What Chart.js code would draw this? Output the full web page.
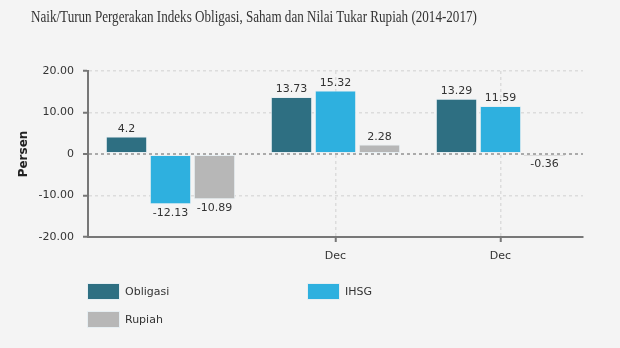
<!DOCTYPE html>
<html>
<head>
<meta charset="utf-8">
<script src="https://cdn.jsdelivr.net/npm/chart.js@4.4.1/dist/chart.umd.min.js"></script>
<style>
  html, body { margin: 0; padding: 0; background: #f4f4f4; }
  #wrap { position: relative; width: 620px; height: 348px; overflow: hidden; }
  #title {
    position: absolute; left: 31px; top: 8px;
    font-family: "Liberation Serif", "DejaVu Serif", serif;
    font-size: 16px; color: #333; white-space: nowrap;
    transform-origin: left top;
  }
  #chart { position: absolute; left: 0; top: 0; }
  .legend-item {
    position: absolute; display: flex; align-items: center;
    font-family: "DejaVu Sans", Verdana, sans-serif; font-size: 11px; color: #333;
  }
  .legend-item span.box {
    display: inline-block; width: 31px; height: 15px; margin-right: 5px;
    border: 1px solid #e6eef2;
  }
</style>
</head>
<body>
<div id="wrap">
  <canvas id="chart" width="620" height="348"></canvas>
  <div id="title">Naik/Turun Pergerakan Indeks Obligasi, Saham dan Nilai Tukar Rupiah (2014-2017)</div>
  <div id="legend"></div>
</div>
<script>
// Categories and series
const categories = ['', 'Dec', 'Dec'];
const obligasi = [4.2, 13.73, 13.29];
const ihsg = [-12.13, 15.32, 11.59];
const rupiah = [-10.89, 2.28, -0.36];
const yTicks = [20, 10, 0, -10, -20];

const seriesList = [
    { label: 'Obligasi', data: obligasi, color: '#2e6f82' },
    { label: 'IHSG', data: ihsg, color: '#2eb0df' },
    { label: 'Rupiah', data: rupiah, color: '#b7b7b7' }
];

// Squeeze the title into a condensed look
const titleEl = document.getElementById('title');
titleEl.style.transform = 'scaleX(' + (446 / titleEl.offsetWidth) + ')';

// HTML legend in two columns
const legendPos = [[87, 283], [307, 283], [87, 311]];
const legendEl = document.getElementById('legend');
seriesList.forEach((s, i) => {
    const item = document.createElement('div');
    item.className = 'legend-item';
    item.style.left = legendPos[i][0] + 'px';
    item.style.top = legendPos[i][1] + 'px';
    item.innerHTML = '<span class="box" style="background:' + s.color + '"></span>' + s.label;
    legendEl.appendChild(item);
});

// Value labels above / below each bar
const valueLabels = {
    id: 'valueLabels',
    afterDatasetsDraw(chart) {
        const ctx = chart.ctx;
        ctx.save();
        ctx.font = '11px "DejaVu Sans", Verdana, sans-serif';
        ctx.fillStyle = '#333';
        ctx.textAlign = 'center';
        chart.data.datasets.forEach((ds, di) => {
            chart.getDatasetMeta(di).data.forEach((bar, i) => {
                const v = ds.data[i];
                if (v >= 0) {
                    ctx.textBaseline = 'bottom';
                    ctx.fillText(String(v), bar.x, bar.y - 2);
                } else {
                    ctx.textBaseline = 'top';
                    ctx.fillText(String(v), bar.x, bar.y + 3);
                }
            });
        });
        ctx.restore();
    }
};

const ctx = document.getElementById('chart').getContext('2d');
new Chart(ctx, {
    type: 'bar',
    data: {
        labels: categories,
        datasets: seriesList.map(s => ({
            label: s.label,
            data: s.data,
            backgroundColor: s.color,
            borderColor: s.label === 'Rupiah' ? ctxBorder : '#e6eef2',
            borderWidth: 1,
            borderSkipped: false,
            categoryPercentage: 0.8,
            barPercentage: 0.94
        }))
    },
    options: {
        responsive: false,
        animation: false,
        layout: { padding: { top: 71, right: 37, bottom: 71, left: 0 } },
        plugins: {
            legend: { display: false },
            title: { display: false },
            tooltip: { enabled: false }
        },
        scales: {
            x: {
                afterFit: scale => { scale.height = 40; },
                border: { color: '#777', width: 2, dash: [3, 3] },
                grid: {
                    color: c => c.index === 0 ? 'rgba(0,0,0,0)' : '#dcdcdc',
                    tickColor: c => c.index === 0 ? 'rgba(0,0,0,0)' : '#777',
                    tickLength: 5,
                    tickWidth: 2,
                    lineWidth: 1.5,
                    offset: false
                },
                ticks: {
                    color: '#333',
                    padding: 8,
                    font: { family: '"DejaVu Sans", Verdana, sans-serif', size: 11 }
                }
            },
            y: {
                min: -20,
                max: 20,
                afterFit: scale => { scale.width = 88; },
                afterBuildTicks: scale => { scale.ticks = yTicks.map(v => ({ value: v })); },
                border: { color: '#777', width: 2, dash: [3, 3] },
                grid: {
                    color: c => c.tick && c.tick.value === 0 ? '#aaa' : '#dcdcdc',
                    lineWidth: c => c.tick && c.tick.value === 0 ? 2 : 1.5,
                    tickColor: '#777',
                    tickLength: 5,
                    tickWidth: 2
                },
                ticks: {
                    color: '#333',
                    padding: 9,
                    font: { family: '"DejaVu Sans", Verdana, sans-serif', size: 11 },
                    callback: v => v === 0 ? '0' : v.toFixed(2)
                },
                title: {
                    display: true,
                    text: 'Persen',
                    color: '#222',
                    padding: { top: 17, bottom: 0 },
                    font: { family: '"DejaVu Sans", Verdana, sans-serif', size: 12, weight: 'bold' }
                }
            }
        }
    },
    plugins: [valueLabels]
});

// Rupiah bars get a grey edge so the tiny negative bar still shows
function ctxBorder(c) {
    return Math.abs(c.raw) < 1 ? '#999' : '#e6eef2';
}
</script>
</body>
</html>
